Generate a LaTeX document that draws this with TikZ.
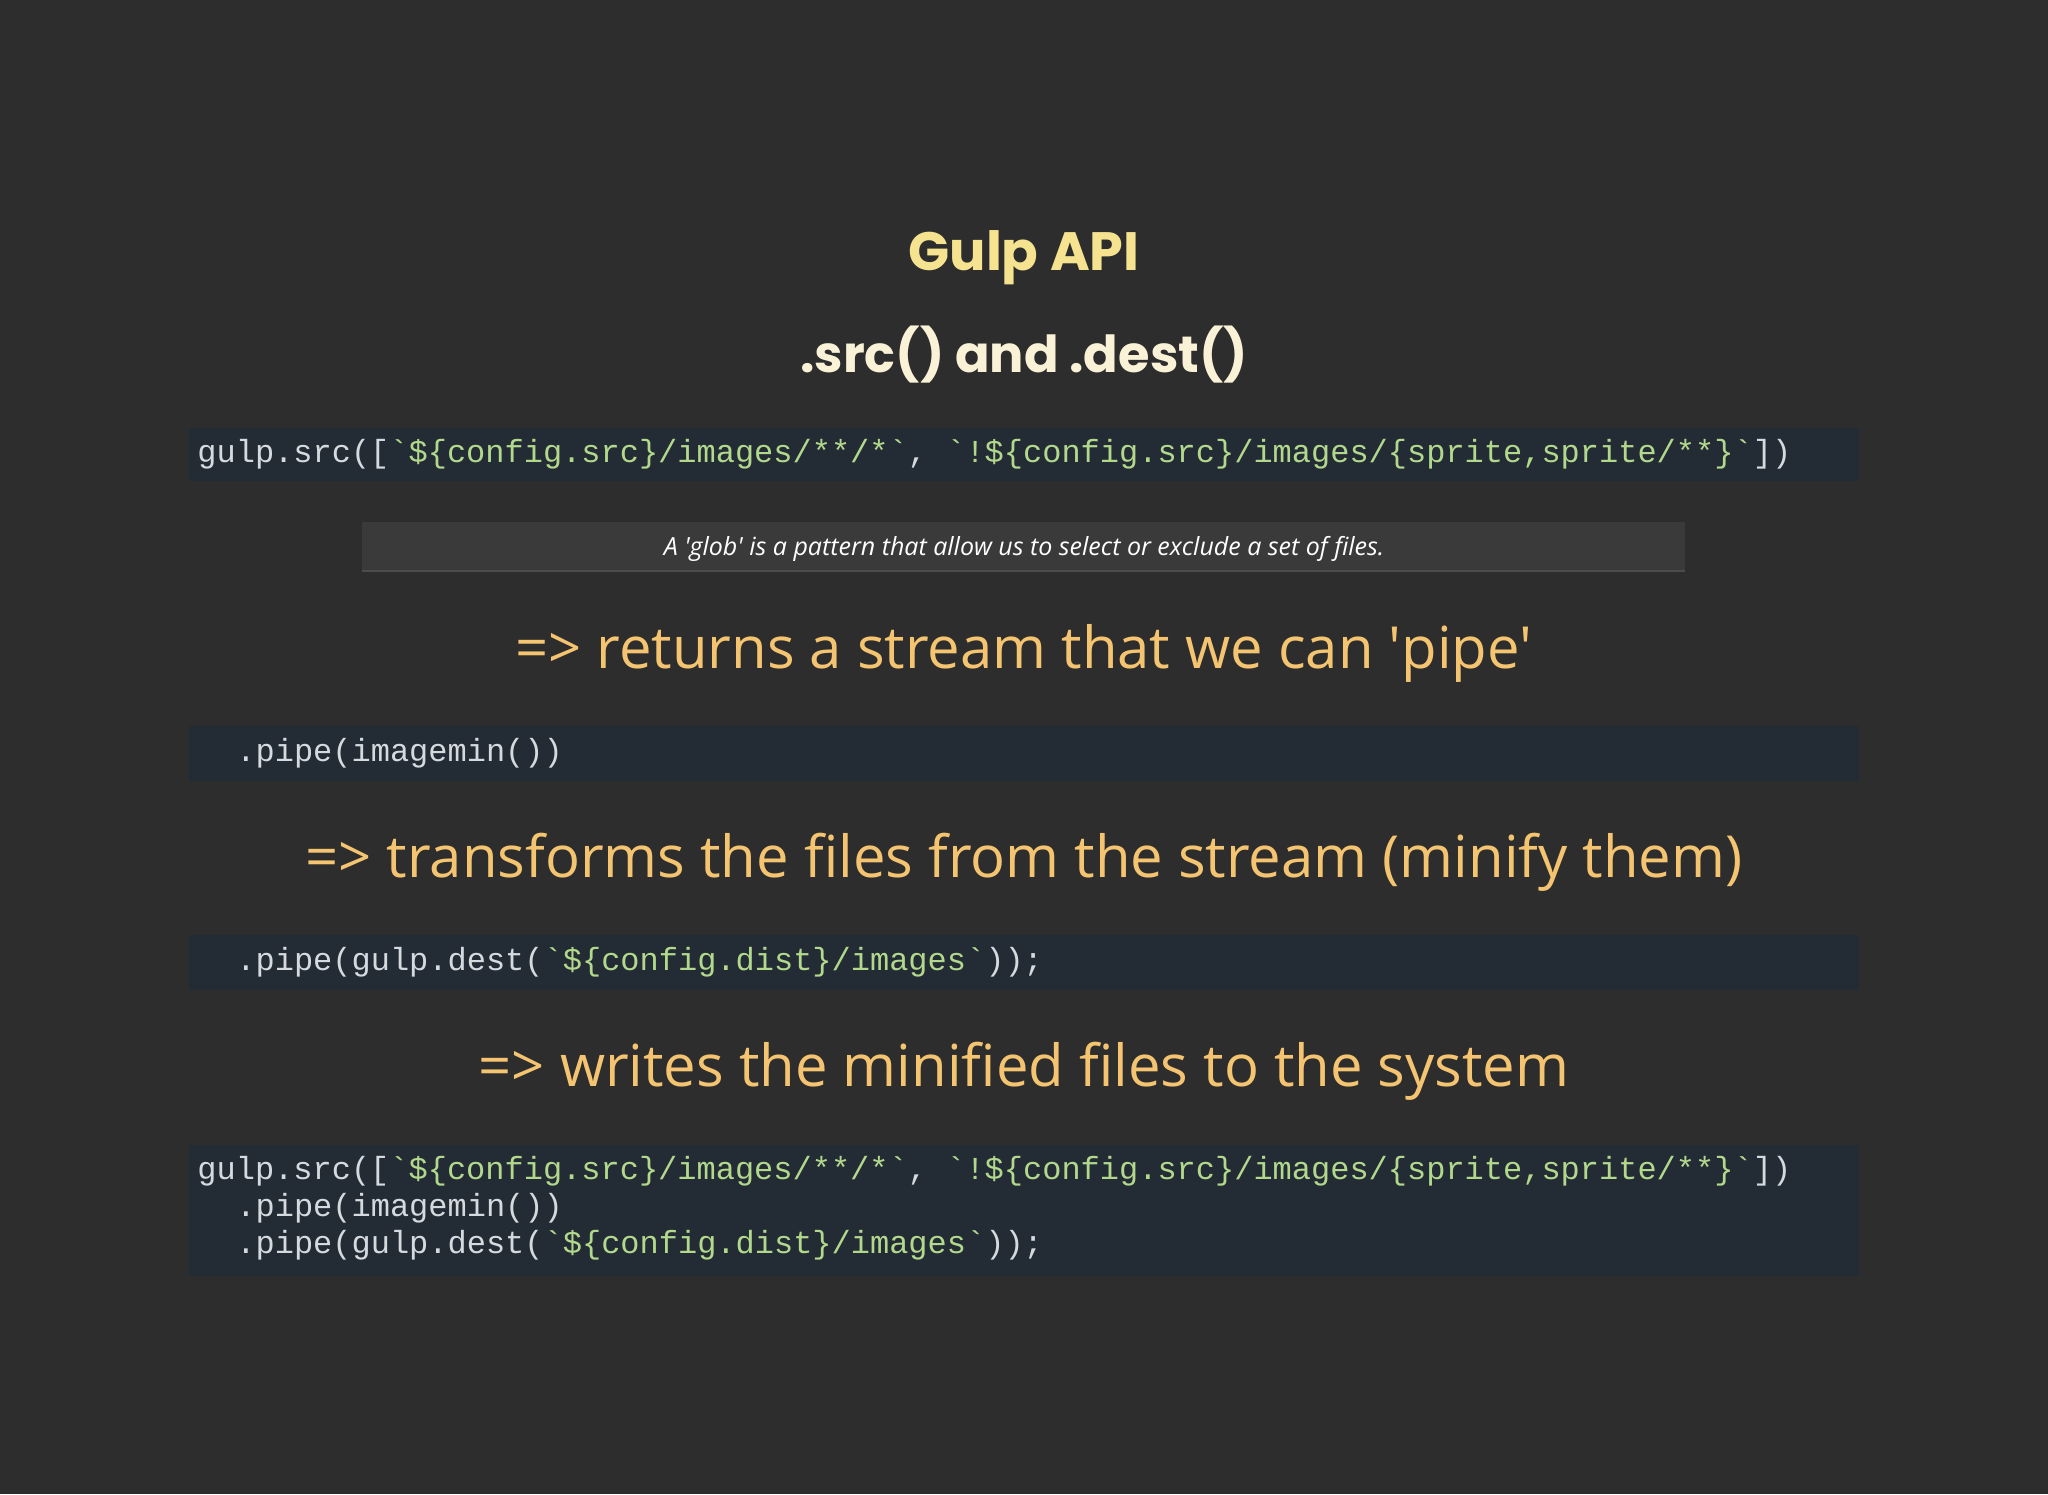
\documentclass[tikz,border=0pt]{standalone}
\usepackage{fontspec}
\setmainfont{Open Sans}
\newfontfamily\codefont{Liberation Mono}
\newfontfamily\titlefont{Poppins}
\definecolor{bg}{HTML}{2D2D2D}
\definecolor{codebg}{HTML}{232B35}
\definecolor{codefg}{HTML}{D4DADE}
\definecolor{codegreen}{HTML}{B2D88C}
\definecolor{titley}{HTML}{F5E390}
\definecolor{titlew}{HTML}{FAF2D6}
\definecolor{orange}{HTML}{F4C471}
\definecolor{globbg}{HTML}{3A3A3A}
\newcommand\gstr[1]{\textcolor{codegreen}{#1}}
\newcommand\bt{\textasciigrave}
\newcommand\sq{\textquotesingle}
\begin{document}
\begin{tikzpicture}[x=0.5pt,y=-0.5pt,
  codebox/.style={fill=codebg,draw=none},
  code/.style={anchor=base west,inner sep=0,text=codefg,font=\codefont\fontsize{16}{18.5}\selectfont},
  orangetxt/.style={anchor=base,inner sep=0,text=orange,font=\fontsize{29}{34}\selectfont}]
\fill[bg] (0,0) rectangle (2048,1494);
\useasboundingbox (0,0) rectangle (2048,1494);
\node[anchor=base,inner sep=0,text=titley,font=\titlefont\bfseries\fontsize{27}{32}\selectfont] (t1) at (1024,270) {Gulp API};
\node[anchor=base,inner sep=0,text=titlew,font=\titlefont\bfseries\fontsize{25.5}{30}\selectfont] (t2) at (1024,372) {.src() and .dest()};
% code box 1
\fill[codebox] (189,428) rectangle (1859,481);
\node[code] (c1) at (197,462) {gulp.src([\gstr{\bt\$\{config.src\}/images/**/*\bt}, \gstr{\bt!\$\{config.src\}/images/\{sprite,sprite/**\}\bt}])};
% glob
\fill[globbg] (362,522) rectangle (1685,571);
\draw[black!70,line width=1pt] (362,571) -- (1685,571);
\node[anchor=base,inner sep=0,text=white,font=\itshape\fontsize{12.5}{15}\selectfont] (g) at (1024,555) {A \sq glob\sq{} is a pattern that allow us to select or exclude a set of files.};
\node[orangetxt] (o1) at (1024,668) {=> returns a stream that we can \sq pipe\sq};
% code box 2
\fill[codebox] (189,726) rectangle (1859,781);
\node[code] (c2) at (236,761) {.pipe(imagemin())};
\node[orangetxt] (o2) at (1024,877) {=> transforms the files from the stream (minify them)};
% code box 3
\fill[codebox] (189,935) rectangle (1859,990);
\node[code] (c3) at (236,970) {.pipe(gulp.dest(\gstr{\bt\$\{config.dist\}/images\bt}));};
\node[orangetxt] (o3) at (1024,1086) {=> writes the minified files to the system};
% code box 4
\fill[codebox] (189,1145) rectangle (1859,1276);
\node[code] (c4a) at (197,1179) {gulp.src([\gstr{\bt\$\{config.src\}/images/**/*\bt}, \gstr{\bt!\$\{config.src\}/images/\{sprite,sprite/**\}\bt}])};
\node[code] (c4b) at (236,1216) {.pipe(imagemin())};
\node[code] (c4c) at (236,1253) {.pipe(gulp.dest(\gstr{\bt\$\{config.dist\}/images\bt}));};
\end{tikzpicture}
\end{document}
